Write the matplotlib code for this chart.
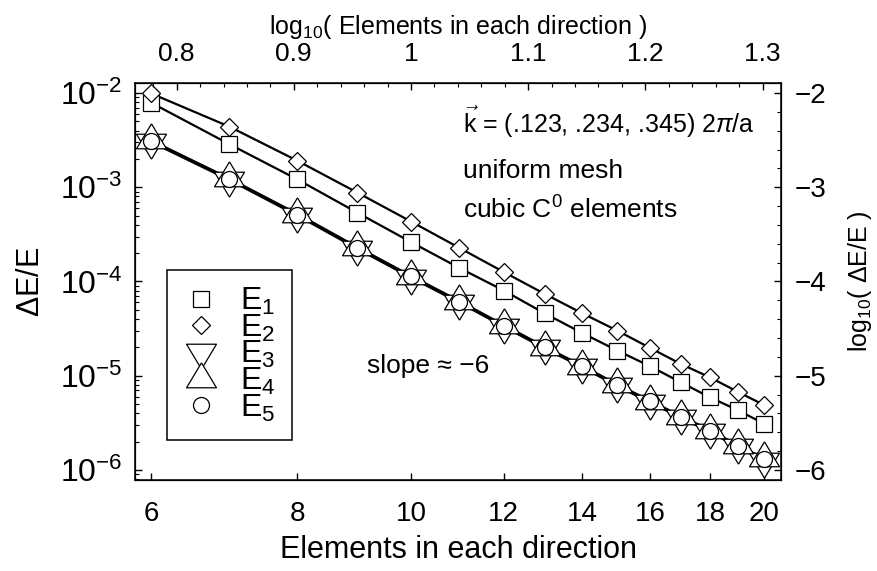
import numpy as np
import matplotlib
matplotlib.use('Agg')
import matplotlib.pyplot as plt
from matplotlib.lines import Line2D
from matplotlib.ticker import FixedLocator, MultipleLocator, NullLocator, LogLocator, NullFormatter

plt.rcParams['font.family'] = ['Liberation Sans', 'DejaVu Sans']
plt.rcParams['mathtext.fontset'] = 'custom'
plt.rcParams['mathtext.rm'] = 'Liberation Sans'
plt.rcParams['mathtext.it'] = 'Liberation Sans:italic'
plt.rcParams['mathtext.sf'] = 'Liberation Sans'

# Elements in each direction
elements = [6, 7, 8, 9, 10, 11, 12, 13, 14, 15, 16, 17, 18, 19, 20]

# relative error dE/E for each eigenvalue
e1 = [7.9e-3, 2.86e-3, 1.21e-3, 5.37e-4, 2.62e-4, 1.39e-4, 8.02e-5, 4.60e-5,
      2.84e-5, 1.85e-5, 1.26e-5, 8.49e-6, 5.89e-6, 4.32e-6, 3.11e-6]
e2 = [9.9e-3, 4.39e-3, 1.91e-3, 8.77e-4, 4.33e-4, 2.27e-4, 1.26e-4, 7.40e-5,
      4.60e-5, 3.01e-5, 1.97e-5, 1.33e-5, 9.59e-6, 6.76e-6, 4.91e-6]
e3 = [3.02e-3, 1.19e-3, 5.00e-4, 2.22e-4, 1.10e-4, 5.95e-5, 3.32e-5, 1.95e-5,
      1.23e-5, 7.75e-6, 5.20e-6, 3.57e-6, 2.53e-6, 1.75e-6, 1.26e-6]
e4 = [3.15e-3, 1.24e-3, 5.22e-4, 2.32e-4, 1.15e-4, 6.20e-5, 3.46e-5, 2.04e-5,
      1.28e-5, 8.10e-6, 5.43e-6, 3.73e-6, 2.65e-6, 1.84e-6, 1.33e-6]
e5 = [3.09e-3, 1.22e-3, 5.13e-4, 2.28e-4, 1.13e-4, 6.10e-5, 3.40e-5, 2.00e-5,
      1.26e-5, 7.94e-6, 5.33e-6, 3.66e-6, 2.60e-6, 1.80e-6, 1.30e-6]

series_labels = [r'$\mathrm{E}_1$', r'$\mathrm{E}_2$', r'$\mathrm{E}_3$',
                 r'$\mathrm{E}_4$', r'$\mathrm{E}_5$']

bottom_ticks = [6, 8, 10, 12, 14, 16, 18, 20]
top_ticks = [0.8, 0.9, 1.0, 1.1, 1.2, 1.3]
top_labels = ['0.8', '0.9', '1', '1.1', '1.2', '1.3']
right_ticks = [-2, -3, -4, -5, -6]

# triangles centred on their centroid (gives the star-of-David look)
tri_up = [(0, 16.7), (-15, -8.3), (15, -8.3), (0, 16.7)]
tri_down = [(0, -16.7), (-15, 8.3), (15, 8.3), (0, -16.7)]

markers = ['s', 'D', tri_down, tri_up, 'o']
msizes = [11, 9.3, 24, 24, 11.5]

fig = plt.figure(figsize=(8.78, 5.71), dpi=100)
ax = fig.add_axes([135/878, 1 - 480/571, 646/878, 397/571])

xlim = (5.814, 20.69)
ylim = (7.83e-7, 1.277e-2)
ax.set_xscale('log')
ax.set_yscale('log')

all_series = [e1, e2, e3, e4, e5]
for ys in all_series:
    ax.plot(elements, ys, color='black', lw=1.6, zorder=2)
for ys, m, ms in zip(all_series, markers, msizes):
    ax.plot(elements, ys, linestyle='none', marker=m, markersize=ms,
            markerfacecolor='white', markeredgecolor='black', markeredgewidth=0.9,
            zorder=3)

ax.set_xlim(xlim)
ax.set_ylim(ylim)

ax.xaxis.set_major_locator(FixedLocator(bottom_ticks))
ax.xaxis.set_minor_locator(NullLocator())
ax.set_xticklabels([str(t) for t in bottom_ticks])
ax.xaxis.set_minor_formatter(NullFormatter())
ax.yaxis.set_major_locator(LogLocator(base=10, numticks=10))
ax.yaxis.set_minor_locator(LogLocator(base=10, subs=np.arange(2, 10), numticks=10))
ax.yaxis.set_minor_formatter(NullFormatter())

ax.tick_params(which='major', direction='in', length=5, width=1)
ax.tick_params(which='minor', direction='in', length=3, width=0.8)
ax.tick_params(axis='x', pad=15, labelsize=20)
ax.tick_params(axis='y', pad=9, labelsize=23)
for s in ax.spines.values():
    s.set_linewidth(1.1)

ax.set_xlabel('Elements in each direction', fontsize=22, labelpad=6)
ax.set_ylabel(r'$\Delta$E/E', fontsize=22, labelpad=10)

# top axis: log10 of elements
ax_top = ax.twiny()
ax_top.set_xscale('linear')
ax_top.set_xlim(np.log10(xlim[0]), np.log10(xlim[1]))
ax_top.set_xticks(top_ticks)
ax_top.set_xticklabels(top_labels)
ax_top.xaxis.set_minor_locator(MultipleLocator(0.02))
ax_top.tick_params(which='major', direction='in', length=5, width=1, labelsize=19, pad=12)
ax_top.tick_params(which='minor', direction='in', length=3, width=0.8)
ax_top.set_xlabel(r'log$_{10}$( Elements in each direction )', fontsize=18, labelpad=6)

# right axis: log10 of error
ax_r = ax.twinx()
ax_r.set_yscale('linear')
ax_r.set_ylim(np.log10(ylim[0]), np.log10(ylim[1]))
ax_r.set_yticks(right_ticks)
ax_r.set_yticklabels(['\u2212%d' % abs(t) for t in right_ticks])
ax_r.yaxis.set_minor_locator(MultipleLocator(0.2))
ax_r.tick_params(which='major', direction='in', length=5, width=1, labelsize=20, pad=10)
ax_r.tick_params(which='minor', direction='in', length=3, width=0.8)
ax_r.set_ylabel(r'log$_{10}$( $\Delta$E/E )', fontsize=18, labelpad=14)

# annotations
fig.text(463/878, 1 - 133/571, r'$\vec{\mathrm{k}}$ = (.123, .234, .345) 2$\pi$/a',
         fontsize=18, ha='left', va='baseline')
fig.text(463/878, 1 - 178/571, 'uniform mesh', fontsize=19, ha='left', va='baseline')
fig.text(463/878, 1 - 219/571, r'cubic C$^0$ elements', fontsize=19, ha='left', va='baseline')
fig.text(367/878, 1 - 373/571, 'slope \u2248 \u22126', fontsize=19, ha='left', va='baseline')

handles = [Line2D([], [], linestyle='none', marker=m, markersize=ms,
                  markerfacecolor='white', markeredgecolor='black', markeredgewidth=0.9)
           for m, ms in zip(markers, msizes)]
leg = ax.legend(handles, series_labels, loc='upper left',
                bbox_to_anchor=((167 - 135) / 646, (480 - 270) / 397),
                fontsize=23, frameon=True, fancybox=False, framealpha=1,
                edgecolor='black', labelspacing=-0.14, handlelength=1.1,
                handletextpad=0.7, borderpad=0.5, borderaxespad=0)
leg.get_frame().set_linewidth(1.1)
leg.set_zorder(5)

fig.savefig('out.png', dpi=100)
